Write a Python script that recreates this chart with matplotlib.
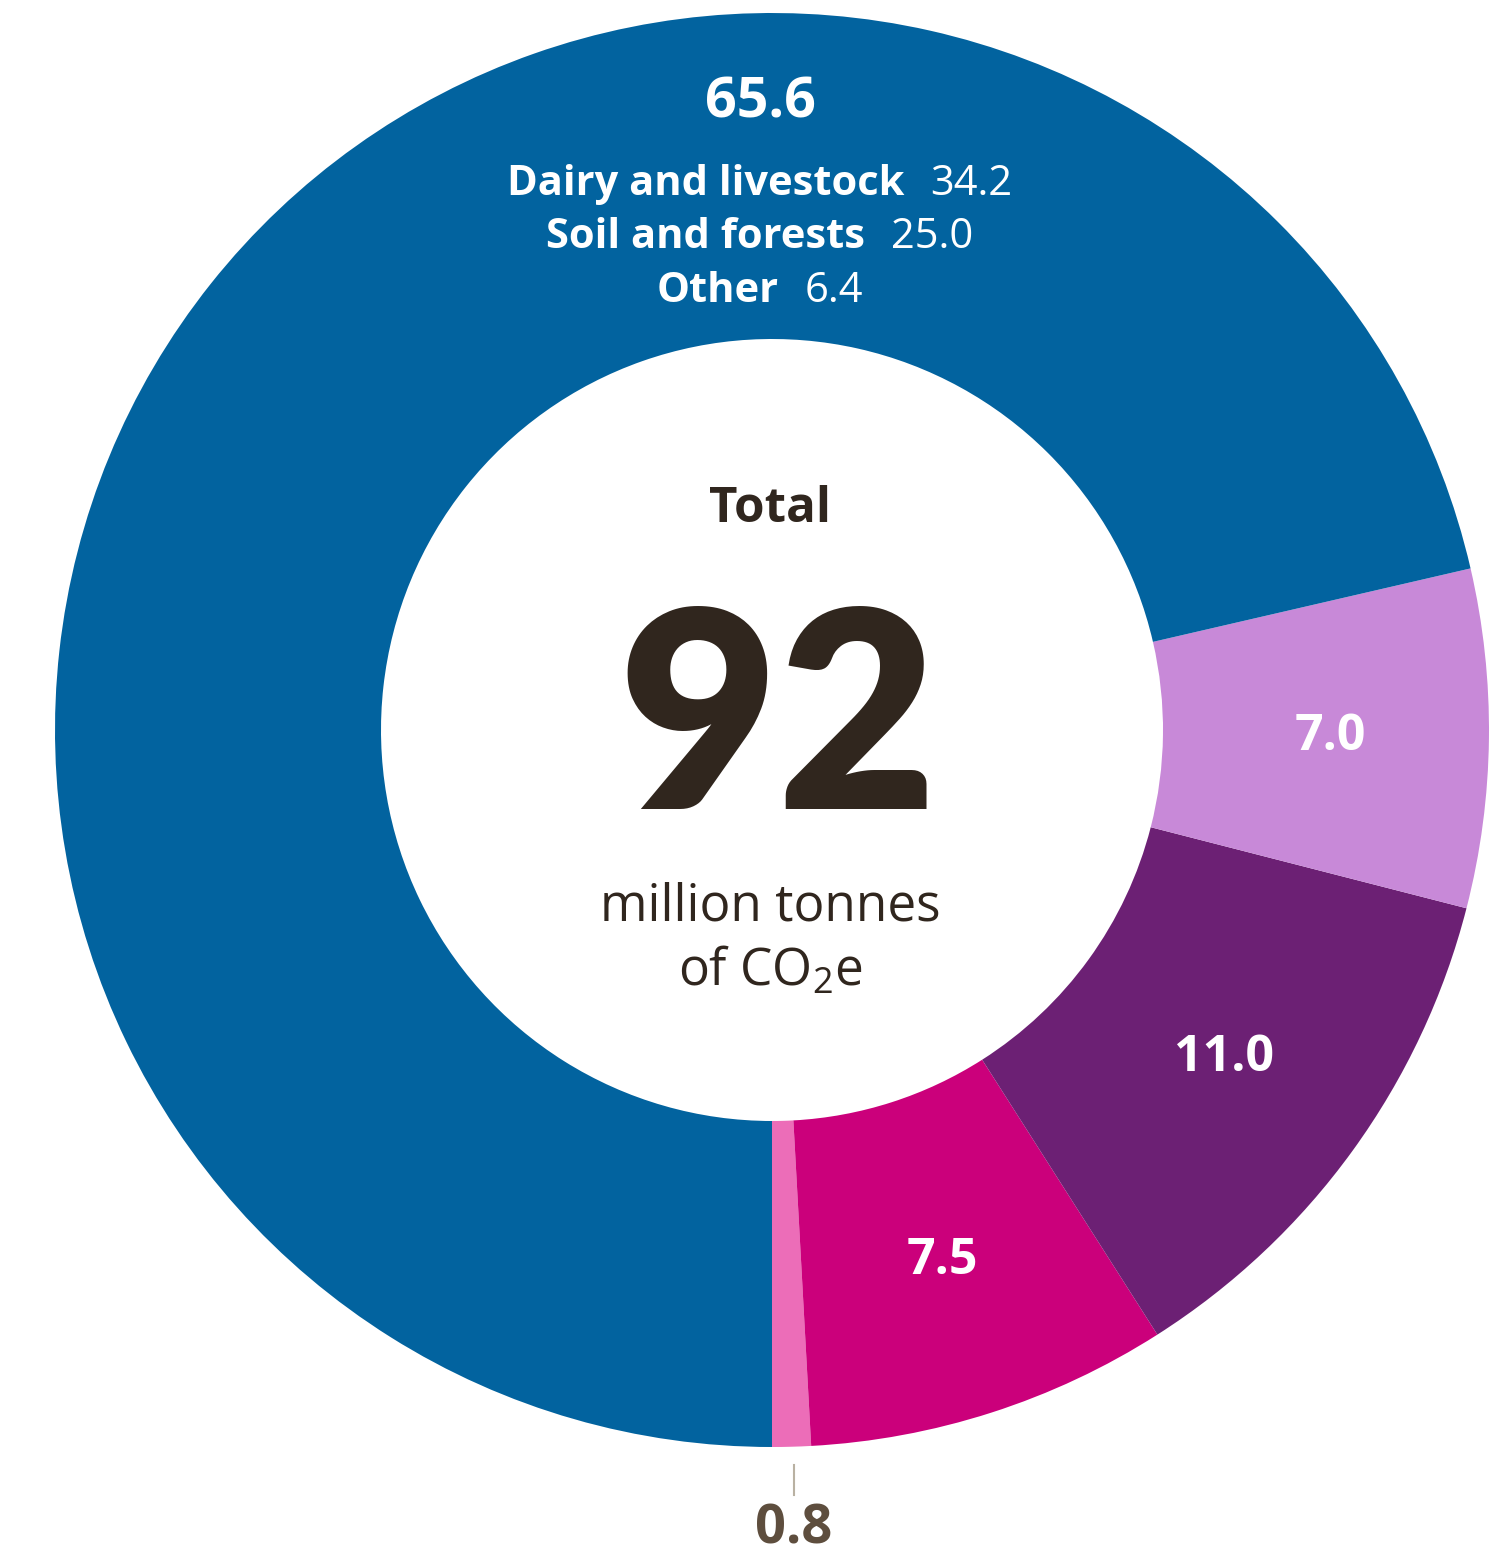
import matplotlib
matplotlib.use("Agg")
import matplotlib.pyplot as plt
import numpy as np

# segments, counter-clockwise from the bottom of the ring
values = [0.8, 7.5, 11.0, 7.0, 65.6]
labels = ["0.8", "7.5", "11.0", "7.0", "65.6"]
colors = ["#EC6DB8", "#CB007B", "#6C2074", "#C889D8", "#02639F"]

# breakdown of the big segment
sub_names = ["Dairy and livestock", "Soil and forests", "Other"]
sub_values = [34.2, 25.0, 6.4]

total = 92

W, H = 1511, 1556
DARK = "#30261E"
plt.rcParams['font.family'] = ['Open Sans', 'DejaVu Sans']

fig = plt.figure(figsize=(W / 100, H / 100), dpi=100)
ax = fig.add_axes([0, 0, 1, 1])

cx, cy = 772, H - 730
r_out, r_in = 717, 391
wedges, _ = ax.pie(values, colors=colors, startangle=270, counterclock=True,
                   radius=r_out, center=(cx, cy),
                   wedgeprops=dict(width=r_out - r_in, linewidth=0))
ax.set_xlim(0, W)
ax.set_ylim(0, H)
ax.set_aspect('equal')
ax.axis('off')

# value labels at the middle of the small segments
r_mid = (r_out + r_in) / 2 + 4
for w, lab in zip(wedges[1:4], labels[1:4]):
    ang = np.deg2rad((w.theta1 + w.theta2) / 2)
    ax.text(cx + r_mid * np.cos(ang), cy + r_mid * np.sin(ang), lab,
            color="white", fontsize=36, fontweight='bold', ha='center', va='center')

# tiny segment gets a label outside with a tick
w0 = wedges[0]
ang = np.deg2rad((w0.theta1 + w0.theta2) / 2)
tx = cx + r_out * np.cos(ang) + 2
ax.plot([tx, tx], [H - 1465, H - 1495], color="#B9B1A2", lw=1.5)
ax.text(tx, H - 1530, labels[0], color="#5E4E3E", fontsize=39,
        fontweight='bold', ha='center', va='center')

# big segment label and breakdown
ax.text(760, H - 103, labels[4], color="white", fontsize=40,
        fontweight='bold', ha='center', va='center')

renderer = fig.canvas.get_renderer()
line_y = [184, 237, 291]
for name, val, y in zip(sub_names, sub_values, line_y):
    t1 = ax.text(0, H - y, name, color="white", fontsize=30,
                 fontweight='bold', ha='left', va='center')
    t2 = ax.text(0, H - y, f"{val:.1f}", color="white", fontsize=30,
                 ha='left', va='center')
    w1 = t1.get_window_extent(renderer).width
    w2 = t2.get_window_extent(renderer).width
    gap = 26
    x0 = 760 - (w1 + gap + w2) / 2
    t1.set_x(x0)
    t2.set_x(x0 + w1 + gap)

# centre text
ax.text(770, H - 509, "Total", color=DARK, fontsize=35.5, fontweight='bold',
        ha='center', va='center')
ax.text(778, H - 728, str(total), color=DARK, fontsize=198, fontweight='heavy',
        family=['Lato', 'DejaVu Sans'], ha='center', va='center')
ax.text(770, H - 907, "million tonnes", color=DARK, fontsize=37,
        ha='center', va='center')
ax.text(770, H - 971, r"of CO$\mathregular{_2}$e", color=DARK, fontsize=37,
        ha='center', va='center')

fig.savefig("out.png", dpi=100, facecolor="white")
